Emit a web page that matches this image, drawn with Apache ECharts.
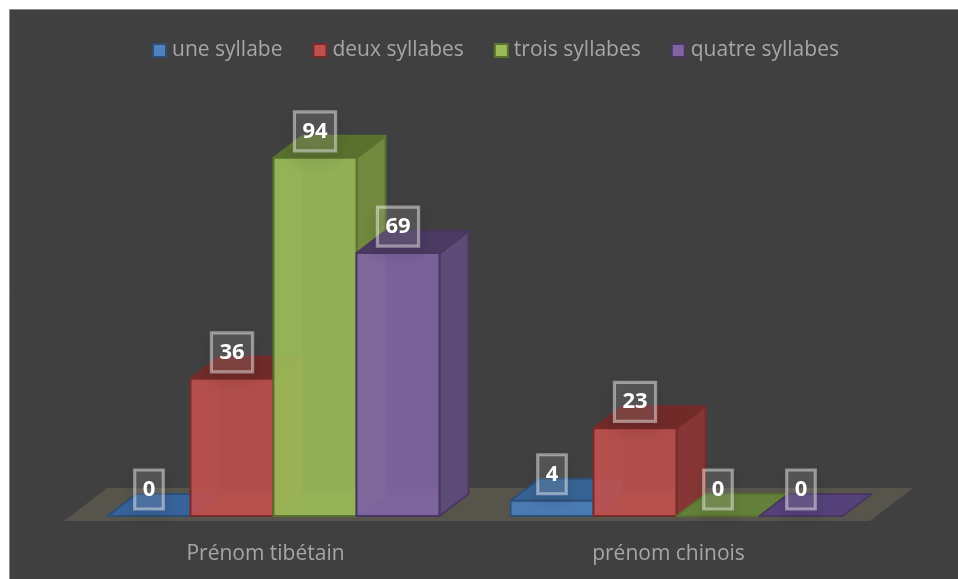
<!DOCTYPE html>
<html><head><meta charset="utf-8">
<style>html,body{margin:0;padding:0;background:#fff}#c{width:958px;height:579px}</style>
<script src="https://cdn.jsdelivr.net/npm/echarts@6/dist/echarts.min.js"></script>
</head><body><div id="c"></div>
<script>
const categories = ['Prénom tibétain', 'prénom chinois'];
const seriesNames = ['une syllabe', 'deux syllabes', 'trois syllabes', 'quatre syllabes'];
const uneSyllabe = [0, 4];
const deuxSyllabes = [36, 23];
const troisSyllabes = [94, 0];
const quatreSyllabes = [69, 0];
const seriesValues = [uneSyllabe, deuxSyllabes, troisSyllabes, quatreSyllabes];
const palette = [
  {front:'rgba(74,126,187,0.9)', top:'#376394', side:'#3a6494', flat:'#38639a', line:'#2c5078', back:'rgba(90,140,200,0.25)', legend:'#4f81bd', legendB:'#2c5078'},
  {front:'rgba(192,80,77,0.88)', top:'#702b29', side:'#863735', flat:'#702b29', line:'#772c2a', back:'rgba(210,100,95,0.25)', legend:'#c0504d', legendB:'#772c2a'},
  {front:'rgba(155,187,89,0.9)', top:'#5a702f', side:'#72893f', flat:'#64803a', line:'#5a7230', back:'rgba(170,200,100,0.2)', legend:'#9bbb59', legendB:'#5a7230'},
  {front:'rgba(128,100,162,0.92)', top:'#4b3a62', side:'#5d4a76', flat:'#55427a', line:'#483860', back:'rgba(170,150,200,0.25)', legend:'#8064a2', legendB:'#483860'}
];
const BAR_W = 83, DX = 29, DY = 22, SHIFT = 8;

function renderBar(sIdx) {
  return function (params, api) {
    const cat = api.value(0), val = api.value(1);
    const base = api.coord([cat, 0]);
    const topPt = api.coord([cat, val]);
    const c = palette[sIdx];
    const x0 = base[0] + SHIFT + (sIdx - 2) * BAR_W, x1 = x0 + BAR_W;
    const yb = base[1], yt = topPt[1];
    const lw = 2;
    const poly = (pts, fill, z2) => ({type:'polygon', shape:{points:pts}, z2: z2,
      style:{fill: fill, stroke: c.line, lineWidth: lw, lineJoin:'round'}});
    const children = [];
    if (val > 0) {
      children.push({type:'polygon', shape:{points:[[x0,yb],[x0+DX,yb-DY],[x0+DX,yt-DY],[x0,yt]]}, z2:1,
        style:{fill:c.back, stroke:'rgba(255,255,255,0.03)', lineWidth:1}});
      children.push({type:'polygon', shape:{points:[[x0,yb],[x1,yb],[x1+DX,yb-DY],[x0+DX,yb-DY]]}, z2:1,
        style:{fill:c.back, stroke:'rgba(255,255,255,0.03)', lineWidth:1}});
      children.push(poly([[x1,yb],[x1+DX,yb-DY],[x1+DX,yt-DY],[x1,yt]], c.side, 2));
      children.push(poly([[x0,yt],[x1,yt],[x1+DX,yt-DY],[x0+DX,yt-DY]], c.top, 3));
      children.push(poly([[x0,yb],[x1,yb],[x1,yt],[x0,yt]], c.front, 4));
    } else {
      children.push(poly([[x0,yb],[x1,yb],[x1+DX,yb-DY],[x0+DX,yb-DY]], c.flat, 3));
    }
    children.push({type:'text', z2: 100,
      x: (x0 + x1) / 2, y: yt - 26.5,
      style:{text:String(val), fill:'#fff', font:'bold 22px "Open Sans"', align:'center', verticalAlign:'middle',
        lineHeight:23, padding:[8,8,8,8],
        backgroundColor:'rgba(255,255,255,0.12)', borderColor:'rgba(255,255,255,0.45)', borderWidth:1.6,
        shadowColor:'rgba(0,0,0,0.35)', shadowBlur:14, shadowOffsetX:0, shadowOffsetY:8}});
    return {type:'group', children: children};
  };
}

function renderFloor(params, api) {
  const cs = params.coordSys;
  const y = cs.y + cs.height;
  return {type:'polygon', shape:{points:[
    [cs.x, y + 5], [cs.x + cs.width, y + 5],
    [cs.x + cs.width + 43, y - 28], [cs.x + 43, y - 28]
  ]}, style:{fill:'#56544b'}};
}

const chart = echarts.init(document.getElementById('c'), null, {renderer:'canvas'});
const series = [{type:'custom', silent:true, renderItem:renderFloor, data:[[0,0]], z:1, legendHoverLink:false, tooltip:{show:false}}];
seriesNames.forEach((name, i) => {
  series.push({
    type:'custom', name:name, renderItem:renderBar(i), z:2 + i, clip:false,
    encode:{x:0, y:1},
    itemStyle:{color:palette[i].legend, borderColor:palette[i].legendB, borderWidth:2},
    data: seriesValues[i].map((v, k) => [k, v])
  });
});
chart.setOption({
  animation:false,
  backgroundColor:'#fff',
  textStyle:{fontFamily:'"Open Sans"'},
  graphic:[{type:'rect', silent:true, z:-10, shape:{x:9.5,y:9.5,width:960,height:580},
    style:{fill:'#404040', stroke:'#8c8c8c', lineWidth:1}}],
  legend:{
    top:35, left:147, itemWidth:13, itemHeight:13, itemGap:30, icon:'rect',
    textStyle:{color:'#a6a6a6', fontSize:21, fontFamily:'"Open Sans"', padding:[0,0,0,1]},
    data:seriesNames
  },
  grid:{left:64, top:135, width:806, height:381},
  xAxis:{type:'category', data:categories, axisLine:{show:false}, axisTick:{show:false},
    axisLabel:{color:'#a6a6a6', fontSize:21, margin:28, fontFamily:'"Open Sans"'}, splitLine:{show:false}},
  yAxis:{type:'value', min:0, max:100, interval:20, show:false},
  series:series
});
</script></body></html>
